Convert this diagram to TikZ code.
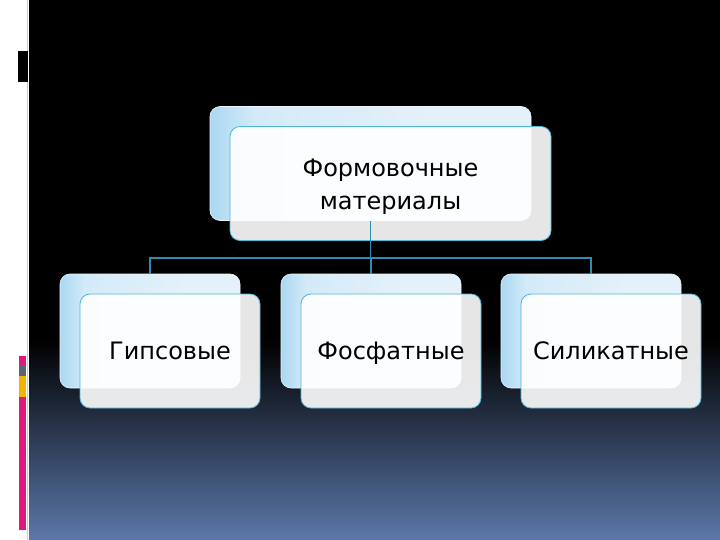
\documentclass[tikz,border=0pt]{standalone}
\usepackage{fontspec}
\setmainfont{DejaVu Sans}
\usetikzlibrary{positioning, calc}
\definecolor{linkC}{HTML}{2F8CB0}
\definecolor{edgeC}{HTML}{4DB8D8}
\definecolor{skyL}{HTML}{AAD8F2}
\definecolor{skyM}{HTML}{D4EAF8}
\definecolor{skyR}{HTML}{E4F1FA}
\definecolor{slateB}{HTML}{5B78AA}
\definecolor{barPink}{HTML}{E0187C}
\definecolor{barGray}{HTML}{5A6472}
\definecolor{barGold}{HTML}{F2B400}
\pgfdeclarehorizontalshading{skyshade}{100bp}{color(0bp)=(skyL); color(25bp)=(skyL);
  color(32bp)=(skyM); color(60bp)=(skyR); color(100bp)=(skyR)}

\begin{document}
\begin{tikzpicture}[
    x=1pt, y=-1pt,
    backbox/.style={rounded corners=10pt, draw=white!80!skyL, line width=0.6pt,
                    shading=skyshade,
                    minimum width=#1, minimum height=114pt, inner sep=0pt},
    backbox/.default=180pt,
    frontbox/.style={rounded corners=10pt, draw=edgeC, line width=0.8pt,
                     fill=white, fill opacity=0.9, text opacity=1,
                     minimum width=#1, minimum height=114pt, inner sep=0pt,
                     align=center, font=\fontsize{24}{33}\selectfont},
    frontbox/.default=180pt,
    leaf/.style={text height=20pt, text depth=4pt},
    link/.style={draw=linkC, line width=1.3pt}
  ]
  % background
  \useasboundingbox (0,0) rectangle (720,540);
  \fill[white] (0,0) rectangle (29,540);
  \fill[black] (29,0) rectangle (720,340);
  \shade[top color=black, bottom color=slateB] (29,340) rectangle (720,540);
  \draw[gray!40, line width=1pt] (27.5,0) -- (27.5,540);
  \fill[black] (17,51) rectangle (28,82);
  \draw[white, line width=0.8pt] (17.5,51) -- (17.5,82);
  % side bar
  \fill[barPink] (19,356) rectangle (26,365);
  \fill[barGray] (19,365) rectangle (26,376);
  \fill[barGold] (19,376) rectangle (26,397);
  \fill[barPink] (19,397) rectangle (26,530);

  % boxes
  \node[backbox=321pt] (topB) at (370.5,163.5) {};
  \node[frontbox=321pt] (top) at ($(topB)+(20,20)$) {\strut Формовочные\\материалы};

  \node[backbox] (gypB) at (150,331) {};
  \node[frontbox, leaf] (gyp) at ($(gypB)+(20,20)$) {Гипсовые};
  \node[backbox] (phoB) at (371,331) {};
  \node[frontbox, leaf] (pho) at ($(phoB)+(20,20)$) {Фосфатные};
  \node[backbox] (silB) at (591,331) {};
  \node[frontbox, leaf] (sil) at ($(silB)+(20,20)$) {Силикатные};

  % connectors
  \coordinate (bus) at (370.5,258);
  \draw[link] (topB.south) -- (bus);
  \draw[link] (gypB.north) |- (bus) -| (silB.north);
  \draw[link] (phoB.north) -- (phoB.north |- bus);
\end{tikzpicture}
\end{document}
